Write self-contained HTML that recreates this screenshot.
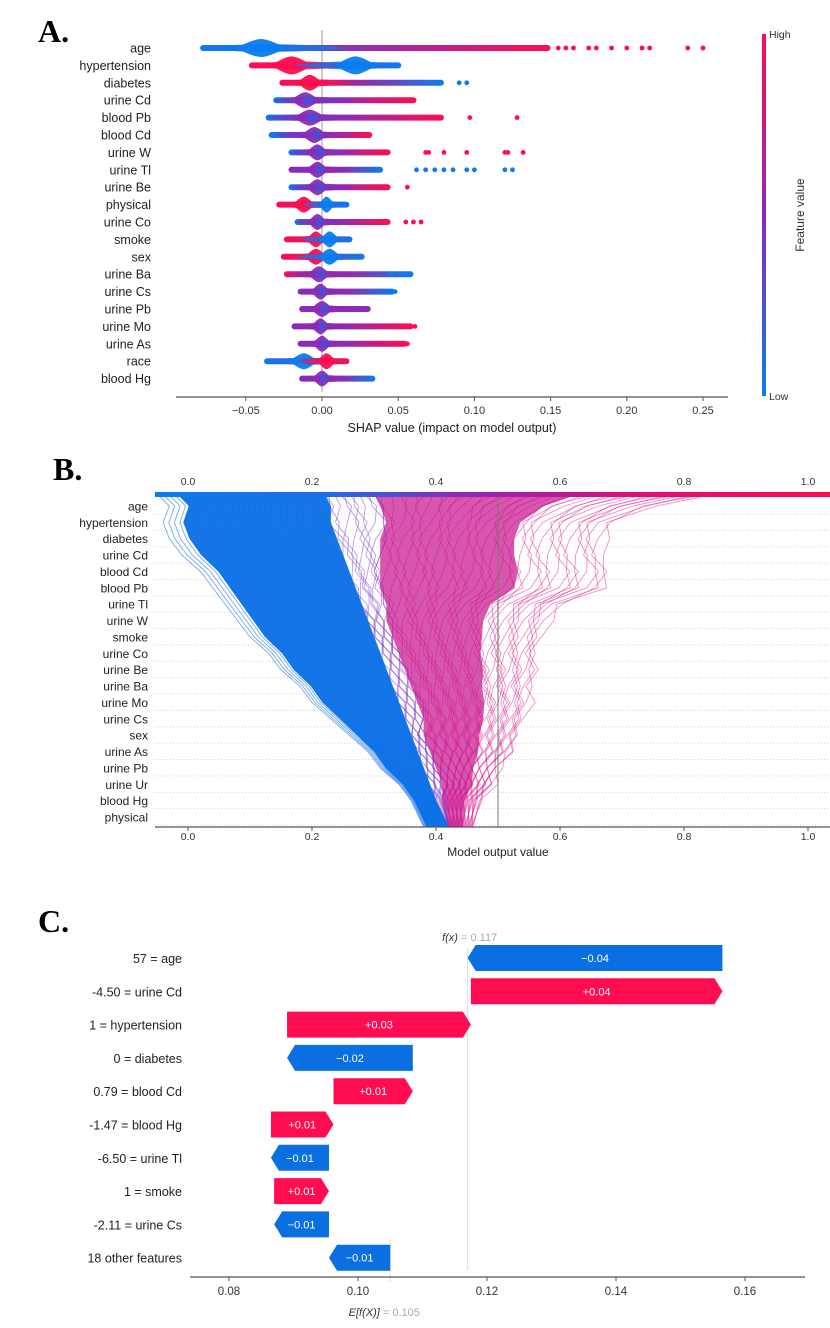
<!DOCTYPE html>
<html><head><meta charset="utf-8"><style>
body{margin:0;background:#fff;}
svg{display:block;font-family:"Liberation Sans",sans-serif;}
</style></head><body>
<svg id="s" width="830" height="1328" viewBox="0 0 830 1328" xmlns="http://www.w3.org/2000/svg">
<defs>
<linearGradient id="cbarV" x1="0" y1="0" x2="0" y2="1"><stop offset="0" stop-color="#ff0d50"/><stop offset="0.5" stop-color="#8a2bb8"/><stop offset="1" stop-color="#0a7cf0"/></linearGradient>
<linearGradient id="cbarH" x1="0" y1="0" x2="1" y2="0"><stop offset="0" stop-color="#0a7cf0"/><stop offset="0.25" stop-color="#1a6fe8"/><stop offset="0.45" stop-color="#8a2bb8"/><stop offset="0.7" stop-color="#d8107a"/><stop offset="1" stop-color="#ff0d50"/></linearGradient>
</defs>
<g id="panelA"></g>
<g id="panelB"></g>
<g id="panelC"></g>
</svg>
<script>
// ---------- Panel A data ----------
const aFeatures=["age","hypertension","diabetes","urine Cd","blood Pb","blood Cd","urine W","urine Tl","urine Be","physical","urine Co","smoke","sex","urine Ba","urine Cs","urine Pb","urine Mo","urine As","race","blood Hg"];
const aBandLo=[-0.08,-0.048,-0.028,-0.032,-0.037,-0.035,-0.022,-0.022,-0.022,-0.03,-0.018,-0.025,-0.027,-0.025,-0.016,-0.015,-0.02,-0.016,-0.038,-0.015];
const aBandHi=[0.15,0.052,0.08,0.062,0.08,0.033,0.045,0.04,0.045,0.018,0.045,0.02,0.028,0.06,0.048,0.032,0.06,0.056,0.018,0.035];
const aColL=["b","r","r","b","b","b","b","m","b","r","b","r","r","r","m","m","m","m","b","m"];
const aColR=["r","b","b","r","r","r","r","b","r","b","r","b","b","b","b","m","r","r","r","b"];
const aPeaks=[[[-0.04,0.016,"b"]],[[-0.02,0.013,"r"],[0.022,0.013,"b"]],[[-0.008,0.008,"r"]],[[-0.011,0.009,"m"]],[[-0.008,0.01,"m"]],[[-0.005,0.008,"m"]],[[-0.003,0.007,"m"]],[[-0.003,0.007,"m"]],[[-0.003,0.007,"m"]],[[-0.012,0.007,"r"],[0.003,0.005,"b"]],[[-0.003,0.006,"m"]],[[-0.004,0.006,"r"],[0.005,0.006,"b"]],[[-0.004,0.007,"r"],[0.005,0.007,"b"]],[[-0.002,0.007,"m"]],[[-0.001,0.006,"m"]],[[0.0,0.007,"m"]],[[-0.001,0.006,"m"]],[[0.0,0.006,"m"]],[[-0.012,0.009,"b"],[0.003,0.006,"r"]],[[0.0,0.006,"m"]]];
const aOutliers=[[0.155,0.16,0.165,0.175,0.18,0.19,0.2,0.21,0.215,0.24,0.25],[],[0.09,0.095],[],[0.097,0.128],[],[0.068,0.07,0.08,0.095,0.12,0.122,0.132],[0.062,0.068,0.074,0.08,0.086,0.095,0.1,0.12,0.125],[0.056],[],[0.055,0.06,0.065],[],[],[0.046,0.052],[0.048],[],[0.061],[0.056],[],[]];
const aOutCol=["r","r","b","r","r","r","r","b","r","r","r","r","r","b","b","r","r","r","r","r"];
const aTicks=[-0.05,0,0.05,0.10,0.15,0.20,0.25];
const aTickLabels=["\u22120.05","0.00","0.05","0.10","0.15","0.20","0.25"];

// ---------- Panel B data ----------
const bFeatures=["age","hypertension","diabetes","urine Cd","blood Cd","blood Pb","urine Tl","urine W","smoke","urine Co","urine Be","urine Ba","urine Mo","urine Cs","sex","urine As","urine Pb","urine Ur","blood Hg","physical"];
const bBlueL=[-0.05,-0.03,-0.04,-0.03,-0.01,0.02,0.04,0.06,0.08,0.10,0.13,0.15,0.18,0.20,0.23,0.26,0.29,0.31,0.34,0.36,0.38];
const bBlueR=[0.22,0.23,0.23,0.24,0.25,0.26,0.27,0.28,0.29,0.30,0.31,0.32,0.33,0.34,0.35,0.36,0.37,0.38,0.39,0.40,0.42];
const bPinkL=[0.30,0.31,0.32,0.31,0.31,0.31,0.31,0.32,0.32,0.33,0.34,0.35,0.36,0.37,0.38,0.38,0.39,0.40,0.41,0.41,0.42];
const bPinkR=[0.85,0.75,0.68,0.67,0.67,0.68,0.67,0.60,0.58,0.57,0.56,0.56,0.55,0.55,0.54,0.53,0.52,0.50,0.49,0.47,0.46];
const bTicks=[0,0.2,0.4,0.6,0.8,1.0];
const bTickLabels=["0.0","0.2","0.4","0.6","0.8","1.0"];
const bBase=[0.5];

// ---------- Panel C data ----------
const cLabels=["57 = age","-4.50 = urine Cd","1 = hypertension","0 = diabetes","0.79 =  blood Cd","-1.47 =  blood Hg","-6.50 =  urine Tl","1 = smoke","-2.11 = urine Cs","18 other features"];
const cValues=[-0.0395,0.039,0.0285,-0.0195,0.0123,0.0097,-0.009,0.0085,-0.0085,-0.0095];
const cValueLabels=["\u22120.04","+0.04","+0.03","\u22120.02","+0.01","+0.01","\u22120.01","+0.01","\u22120.01","\u22120.01"];
const cBase=[0.105];
const cTicks=[0.08,0.10,0.12,0.14,0.16];
const cTickLabels=["0.08","0.10","0.12","0.14","0.16"];

const NS="http://www.w3.org/2000/svg";
function mk(parent,tag,attrs,txt){const e=document.createElementNS(NS,tag);for(const k in attrs)e.setAttribute(k,attrs[k]);if(txt!==undefined)e.textContent=txt;parent.appendChild(e);return e;}
const COL={r:"#ff0d50",b:"#0a7cf0",m:"#8a2bb8"};

// ===== Panel A =====
(function(){
const g=document.getElementById("panelA");
const xA=v=>322+v*1524;
const yA=i=>48+i*17.4;
let t=mk(g,"text",{x:38,y:42,"font-family":"Liberation Serif,serif","font-size":32,"font-weight":"bold",fill:"#000"},"A.");


let z=mk(g,"line",{x1:xA(0),x2:xA(0),y1:30,y2:392,stroke:"#999","stroke-width":1});


const defs=document.querySelector("defs");
aFeatures.forEach((f,i)=>{
 const y=yA(i);
 const row=mk(g,"g",{});
 
 
 const lab=mk(row,"text",{x:151,y:y+4.5,"text-anchor":"end","font-size":12.5,fill:"#222"},f);
 
 
 const gid="ag"+i;
 const lg=mk(defs,"linearGradient",{id:gid,x1:0,y1:0,x2:1,y2:0});
 mk(lg,"stop",{offset:0,"stop-color":COL[aColL[i]]});
 mk(lg,"stop",{offset:0.5,"stop-color":"#9a2aa8"});
 mk(lg,"stop",{offset:1,"stop-color":COL[aColR[i]]});
 const lo=xA(aBandLo[i]),hiX=xA(aBandHi[i]);
 const band=mk(row,"rect",{x:lo,y:y-3,width:hiX-lo,height:6,rx:3,fill:"url(#"+gid+")"});
 
 
 aPeaks[i].forEach(p=>{
  const c=xA(p[0]),hw=p[1]*1524*1.6,h=i<2?9:8;
  // tapered thicker zone
  const tz=mk(row,"path",{d:`M${Math.max(lo,c-hw*2)},${y} Q${c},${y-h*0.9} ${Math.min(hiX,c+hw*2.2)},${y} Q${c},${y+h*0.9} ${Math.max(lo,c-hw*2)},${y}Z`,fill:COL[p[2]],opacity:0.75});
  
  
  const hw2=hw*0.65;
  const pk=mk(row,"path",{d:`M${c-hw2},${y} Q${c-hw2*0.3},${y-h} ${c},${y-h} Q${c+hw2*0.3},${y-h} ${c+hw2},${y} Q${c+hw2*0.3},${y+h} ${c},${y+h} Q${c-hw2*0.3},${y+h} ${c-hw2},${y}Z`,fill:COL[p[2]],opacity:0.95});
  
  
  if(p[2]==="m"){const pk2=mk(row,"ellipse",{cx:c+hw2*0.2,cy:y,rx:hw2*0.4,ry:h*0.55,fill:"#2a5fe0",opacity:0.6});
   
   }
 });
 aOutliers[i].forEach(v=>{
  const d=mk(row,"circle",{cx:xA(v),cy:y,r:2.4,fill:COL[aOutCol[i]]});
  
  
 });
});
const ax=mk(g,"line",{x1:176,x2:728,y1:397,y2:397,stroke:"#555","stroke-width":1.2});


aTicks.forEach((v,k)=>{
 mk(g,"line",{x1:xA(v),x2:xA(v),y1:397,y2:401,stroke:"#555"});
 const tl=mk(g,"text",{x:xA(v),y:414,"text-anchor":"middle","font-size":11,fill:"#333"},aTickLabels[k]);
 
 
});
const xt=mk(g,"text",{x:452,y:432,"text-anchor":"middle","font-size":12.5,fill:"#222"},"SHAP value (impact on model output)");


const cb=mk(g,"rect",{x:762,y:34,width:4,height:362,fill:"url(#cbarV)"});


const hi=mk(g,"text",{x:769,y:38,"font-size":10.5,fill:"#333"},"High");


const loT=mk(g,"text",{x:769,y:400,"font-size":10.5,fill:"#333"},"Low");


const fv=mk(g,"text",{x:804,y:215,"text-anchor":"middle","font-size":12,fill:"#333",transform:"rotate(-90 804 215)"},"Feature value");


})();

// ===== Panel B =====
(function(){
const g=document.getElementById("panelB");
const xB=v=>188+v*620;
const yL=i=>i===0?494:506+(i-1)*16.37;
const yBottom=827;
let t=mk(g,"text",{x:53,y:480,"font-family":"Liberation Serif,serif","font-size":32,"font-weight":"bold",fill:"#000"},"B.");


bFeatures.forEach((f,i)=>{
 const y=yL(i+1);
 const gl=mk(g,"line",{x1:155,x2:830,y1:y+8,y2:y+8,stroke:"#ccc","stroke-width":0.8,"stroke-dasharray":"1,2"});
 
 
 const lab=mk(g,"text",{x:148,y:y+4.5,"text-anchor":"end","font-size":12,fill:"#222"},f);
 
 
});
const nL=bBlueL.length;
function poly(Larr,Rarr,fill,op,name){
 let pts=[];
 for(let i=0;i<nL;i++)pts.push(xB(Larr[i])+","+(i===nL-1?yBottom:yL(i)));
 for(let i=nL-1;i>=0;i--)pts.push(xB(Rarr[i])+","+(i===nL-1?yBottom:yL(i)));
 const p=mk(g,"polygon",{points:pts.join(" "),fill:fill,opacity:op});
 
 
}
function lines(Larr,Rarr,N,color,op,name,jit){
 for(let k=0;k<=N;k++){
  const tt=k/N;let pts=[];
  for(let i=0;i<nL;i++){
   let v=Larr[i]+(Rarr[i]-Larr[i])*tt;
   if(jit&&i>0&&i<nL-1)v+=((k*7+i*3)%5-2)*0.005;
   pts.push(xB(v)+","+(i===nL-1?yBottom:yL(i)));
  }
  const pl=mk(g,"polyline",{points:pts.join(" "),fill:"none",stroke:color,"stroke-width":0.9,opacity:op});
  
  
 }
}
lines(bPinkL,bPinkR,40,"#e0208f",0.5,"high-output-line",true);
poly(bPinkL,bPinkL.map((v,i)=>v+(bPinkR[i]-v)*0.6),"#c80f8c",0.7,"high-output-core");
lines(bBlueR,bPinkL,10,"#7a3ad0",0.5,"mid-output-line",true);
lines(bBlueL,bBlueR,30,"#1a72e8",0.6,"low-output-line",false);
poly(bBlueL.map((v,i)=>v+(bBlueR[i]-v)*0.12),bBlueR,"#0a6fe6",0.95,"low-output-core");
const bl=mk(g,"line",{x1:xB(bBase[0]),x2:xB(bBase[0]),y1:yL(0),y2:yBottom,stroke:"#777","stroke-width":1});


const cb=mk(g,"rect",{x:155,y:492,width:675,height:5,fill:"url(#cbarH)"});


const ax=mk(g,"line",{x1:155,x2:830,y1:yBottom,y2:yBottom,stroke:"#555","stroke-width":1.2});


bTicks.forEach((v,k)=>{
 const t1=mk(g,"text",{x:xB(v),y:485,"text-anchor":"middle","font-size":10.5,fill:"#333"},bTickLabels[k]);
 
 
 mk(g,"line",{x1:xB(v),x2:xB(v),y1:yBottom,y2:yBottom+4,stroke:"#555"});
 const t2=mk(g,"text",{x:xB(v),y:840,"text-anchor":"middle","font-size":10.5,fill:"#333"},bTickLabels[k]);
 
 
});
const xt=mk(g,"text",{x:498,y:856,"text-anchor":"middle","font-size":12,fill:"#222"},"Model output value");


})();

// ===== Panel C =====
(function(){
const g=document.getElementById("panelC");
const xC=v=>358+(v-0.10)*6450;
const yC=i=>958+i*33.3;
let t=mk(g,"text",{x:38,y:932,"font-family":"Liberation Serif,serif","font-size":32,"font-weight":"bold",fill:"#000"},"C.");


const n=cValues.length;
let starts=new Array(n),ends=new Array(n);
let cur=cBase[0];
for(let i=n-1;i>=0;i--){starts[i]=cur;cur+=cValues[i];ends[i]=cur;}
const fx=cur;
const fl=mk(g,"line",{x1:xC(fx),x2:xC(fx),y1:948,y2:1270,stroke:"#ddd","stroke-width":1});


const el=mk(g,"line",{x1:xC(cBase[0]),x2:xC(cBase[0]),y1:1240,y2:1282,stroke:"#ddd","stroke-width":1});


cLabels.forEach((lab,i)=>{
 const y=yC(i),h=13,tip=8;
 const a=xC(starts[i]),b=xC(ends[i]);
 const pos=cValues[i]>0;
 let d;
 if(pos){d=`M${a},${y-h} L${b-tip},${y-h} L${b},${y} L${b-tip},${y+h} L${a},${y+h} Z`;}
 else{d=`M${a},${y-h} L${b+tip},${y-h} L${b},${y} L${b+tip},${y+h} L${a},${y+h} Z`;}
 const bar=mk(g,"path",{d:d,fill:pos?"#ff0d50":"#0a6fe0"});
 
 
 const vt=mk(g,"text",{x:(a+b)/2,y:y+4,"text-anchor":"middle","font-size":11,fill:"#fff"},cValueLabels[i]);
 
 
 const lt=mk(g,"text",{x:182,y:y+5,"text-anchor":"end","font-size":12.5,fill:"#222"},lab);
 
 
});
const ax=mk(g,"line",{x1:190,x2:805,y1:1277,y2:1277,stroke:"#555","stroke-width":1.2});


cTicks.forEach((v,k)=>{
 mk(g,"line",{x1:xC(v),x2:xC(v),y1:1277,y2:1281,stroke:"#555"});
 const tl=mk(g,"text",{x:xC(v),y:1295,"text-anchor":"middle","font-size":11.5,fill:"#333"},cTickLabels[k]);
 
 
});
const ft=mk(g,"text",{x:xC(fx)+2,y:941,"text-anchor":"middle","font-size":11,fill:"#333"});


mk(ft,"tspan",{"font-style":"italic"},"f(x)");
mk(ft,"tspan",{fill:"#aaa"}," = "+fx.toFixed(3));
const et=mk(g,"text",{x:xC(cBase[0])-6,y:1316,"text-anchor":"middle","font-size":11,fill:"#333"});


mk(et,"tspan",{"font-style":"italic"},"E[f(X)]");
mk(et,"tspan",{fill:"#aaa"}," = "+cBase[0].toFixed(3));
})();
</script>
</body></html>
